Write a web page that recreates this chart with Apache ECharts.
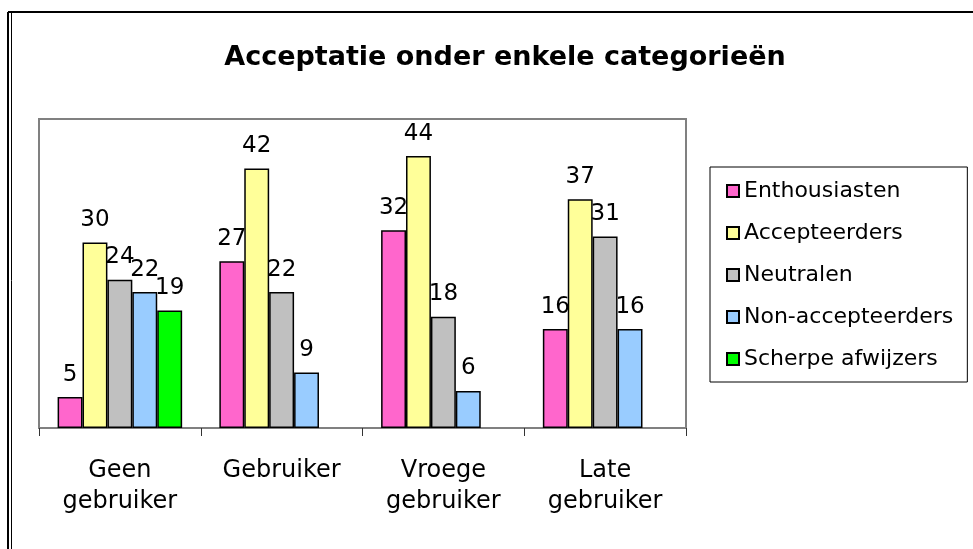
<!DOCTYPE html>
<html>
<head>
<meta charset="utf-8">
<script src="https://cdn.jsdelivr.net/npm/echarts@6/dist/echarts.min.js"></script>
<style>
  html, body { margin: 0; padding: 0; background: #fff; }
  #chart { width: 973px; height: 549px; }
</style>
</head>
<body>
<div id="chart"></div>
<script>
var categories = ['Geen\ngebruiker', 'Gebruiker', 'Vroege\ngebruiker', 'Late\ngebruiker'];
var seriesNames = ['Enthousiasten', 'Accepteerders', 'Neutralen', 'Non-accepteerders', 'Scherpe afwijzers'];
var enthousiasten = [5, 27, 32, 16];
var accepteerders = [30, 42, 44, 37];
var neutralen = [24, 22, 18, 31];
var nonAccepteerders = [22, 9, 6, 16];
var scherpeAfwijzers = [19, '-', '-', '-'];
var colors = ['#FF66CC', '#FFFF99', '#C0C0C0', '#99CCFF', '#00FF00'];

var font = 'DejaVu Sans, Verdana, sans-serif';
var allData = [enthousiasten, accepteerders, neutralen, nonAccepteerders, scherpeAfwijzers];

var myChart = echarts.init(document.getElementById('chart'));

var series = seriesNames.map(function (name, i) {
  return {
    name: name,
    type: 'bar',
    data: allData[i],
    barGap: '0%',
    barCategoryGap: '23%',
    itemStyle: { color: colors[i], borderColor: '#000', borderWidth: 1.5 },
    label: {
      show: true,
      position: 'top',
      distance: 11,
      color: '#000',
      fontFamily: font,
      fontSize: 23
    }
  };
});

var option = {
  backgroundColor: '#fff',
  animation: false,
  title: {
    text: 'Acceptatie onder enkele categorieën',
    left: 500,
    textAlign: 'center',
    top: 39,
    textStyle: { fontFamily: font, fontSize: 27, fontWeight: 'bold', color: '#000' }
  },
  legend: {
    orient: 'vertical',
    left: 710,
    top: 167,
    padding: [13, 14, 12, 16],
    itemGap: 20,
    itemWidth: 12,
    itemHeight: 12,
    borderColor: '#000',
    borderWidth: 1,
    icon: 'rect',
    textStyle: { fontFamily: font, fontSize: 22, color: '#000' },
    data: seriesNames
  },
  grid: {
    left: 39,
    top: 119,
    right: 287,
    bottom: 121,
    show: true,
    borderColor: '#808080',
    borderWidth: 2
  },
  xAxis: {
    type: 'category',
    data: categories,
    axisLine: { lineStyle: { color: '#808080', width: 2 } },
    axisTick: { show: true, length: 8, lineStyle: { color: '#333', width: 1 } },
    axisLabel: {
      color: '#000',
      fontFamily: font,
      fontSize: 24,
      lineHeight: 31,
      margin: 27
    }
  },
  yAxis: {
    type: 'value',
    min: 0,
    max: 50,
    axisLine: { show: false },
    axisTick: { show: false },
    axisLabel: { show: false },
    splitLine: { show: false }
  },
  graphic: [
    { type: 'line', shape: { x1: 8, y1: 12, x2: 973, y2: 12 }, style: { stroke: '#000', lineWidth: 2 } },
    { type: 'line', shape: { x1: 8, y1: 12, x2: 8, y2: 549 }, style: { stroke: '#000', lineWidth: 2 } },
    { type: 'line', shape: { x1: 11.5, y1: 12, x2: 11.5, y2: 549 }, style: { stroke: '#000', lineWidth: 1 } }
  ],
  series: series
};

myChart.setOption(option);
</script>
</body>
</html>
